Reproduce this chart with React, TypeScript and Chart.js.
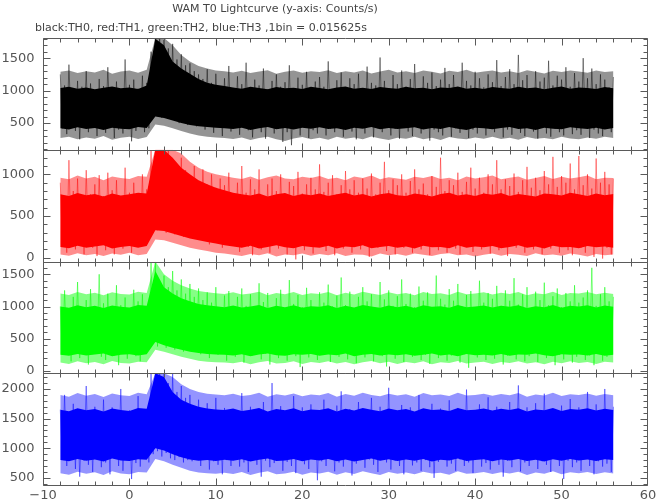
import React, { useEffect, useRef } from "react";
import { Chart, registerables } from "chart.js";

Chart.register(...registerables);

// ---------- text ----------
const TITLE = "WAM T0 Lightcurve (y-axis: Counts/s)";
const SUBTITLE = "black:TH0, red:TH1, green:TH2, blue:TH3 ,1bin = 0.015625s";

// ---------- time grids (seconds) ----------
const T_START = -8;
const SPIKE_STEP = 0.25;
const BAND_STEP = 1;
const X_MIN = -10;
const X_MAX = 60;
const X_TICKS = [-10, 0, 10, 20, 30, 40, 50, 60];

// ---------- counts/s spikes (alternating highs / lows, 0.25 s) ----------
const TH0 = [
  1250, 420, 1080, 330, 1400, 470, 1020, 380, 1150, 250, 1060, 440, 1300, 360, 1110, 460, 990, 300, 1180, 410,
  1070, 350, 1360, 450, 1040, 270, 1140, 400, 1010, 340, 1480, 430, 1090, 220, 1170, 380, 1030, 460, 1230, 360,
  1120, 420, 1600, 600, 1800, 650, 1800, 580, 1780, 620, 1650, 560, 1720, 540, 1480, 500, 1560, 520, 1390, 470,
  1420, 540, 1300, 450, 1250, 560, 1180, 400, 1330, 470, 1120, 350, 1260, 500, 1070, 300, 1190, 430, 1380, 370,
  1040, 450, 1220, 320, 1100, 480, 1430, 390, 1000, 280, 1170, 440, 1080, 360, 1340, 260, 1020, 470, 1150, 340,
  1250, 410, 1060, 210, 1130, 360, 1390, 160, 1030, 420, 1200, 310, 1090, 460, 1290, 270, 1000, 390, 1140, 340,
  1210, 450, 1060, 310, 1450, 410, 1020, 360, 1160, 470, 1280, 290, 1050, 430, 1190, 370, 1100, 250, 1260, 440,
  1010, 340, 1370, 480, 1120, 280, 1080, 420, 1510, 360, 1150, 450, 1040, 310, 1240, 410, 1100, 260, 1310, 460,
  1060, 370, 1180, 300, 1410, 440, 1020, 340, 1220, 470, 1120, 230, 1280, 400, 1070, 360, 1170, 310, 1350, 450,
  1100, 290, 1240, 420, 1030, 350, 1430, 460, 1150, 270, 1080, 400, 1290, 340, 1190, 470, 1050, 310, 1250, 410,
  1130, 360, 1470, 440, 1070, 280, 1210, 400, 1330, 320, 1100, 450, 1550, 350, 1160, 300, 1240, 420, 1040, 370,
  1300, 260, 1140, 440, 1200, 340, 1460, 290, 1080, 410, 1230, 360, 1170, 310, 1360, 460, 1060, 330, 1270, 390,
  1140, 320, 1500, 440, 1190, 270, 1340, 400, 1100, 340, 1250, 300, 1170, 430, 1050, 360, 1210,
];

const TH1 = [
  900, 150, 720, 60, 1170, 230, 800, 100, 950, 180, 700, 40, 1050, 200, 760, 120, 880, 20, 990, 210,
  740, 90, 1020, 160, 810, 40, 930, 220, 690, 110, 1080, 170, 780, 60, 900, 230, 720, 130, 1000, 190,
  820, 260, 1290, 380, 1290, 330, 1290, 400, 1250, 300, 1290, 360, 1180, 280, 1120, 330, 1200, 250, 1050, 300,
  980, 280, 1100, 350, 900, 230, 1060, 310, 880, 160, 1000, 270, 840, 200, 950, 120, 870, 240, 1020, 150,
  760, 180, 900, 70, 1100, 210, 780, 130, 940, 30, 820, 190, 1060, 100, 730, 220, 880, 60, 950, 170,
  800, 110, 1000, 200, 740, 40, 910, 160, 860, -20, 1030, 230, 770, 90, 880, 180, 960, 50, 820, 140,
  1120, 210, 790, 80, 900, 150, 990, 30, 760, 200, 870, 110, 1040, 170, 820, 60, 930, 230, 780, 100,
  950, 140, 830, 10, 1010, 190, 760, 120, 900, 220, 1150, 80, 810, 160, 940, 40, 870, 200, 1000, 120,
  780, 180, 920, 60, 1060, 230, 820, 100, 890, 170, 760, 30, 980, 210, 850, 90, 1200, 150, 800, 60,
  930, 190, 870, 110, 1020, 40, 790, 220, 910, 130, 1080, 70, 830, 180, 960, 100, 780, 200, 1000, 50,
  880, 160, 1170, 90, 820, 210, 940, 20, 860, 170, 1010, 120, 790, 230, 930, 60, 1090, 150, 840, 100,
  960, 200, 810, 40, 1040, 170, 880, 110, 1210, 210, 850, 60, 980, 180, 900, 90, 1130, 30, 820, 190,
  1220, 120, 870, 60, 1000, 200, 830, 10, 1190, 150, 900, -10, 1030, 120, 880, 40, 950,
];

const TH2 = [
  1000, 250, 1250, 380, 920, 150, 1150, 300, 1380, 200, 960, 330, 1100, 100, 1270, 260, 980, 350, 1500, 220,
  1050, 170, 1200, 310, 900, 240, 1330, 90, 1020, 280, 1140, 190, 970, 360, 1260, 230, 1080, 150, 1190, 300,
  940, 330, 1690, 450, 1690, 380, 1400, 420, 1480, 360, 1300, 400, 1550, 330, 1250, 380, 1420, 300, 1200, 350,
  1350, 300, 1150, 420, 1280, 260, 1100, 380, 1220, 200, 1060, 340, 1300, 250, 990, 310, 1170, 160, 1240, 290,
  960, 220, 1150, 350, 1280, 130, 1010, 300, 1190, 240, 920, 360, 1360, 180, 1070, 270, 1210, 100, 980, 320,
  1130, 200, 1260, 330, 950, 160, 1410, 280, 1040, 230, 1180, 60, 990, 340, 1290, 210, 1100, 300, 930, 170,
  1220, 250, 1060, 380, 1340, 140, 1000, 290, 1170, 220, 1450, 330, 1020, 180, 1230, 270, 950, 120, 1150, 310,
  1300, 210, 1080, 350, 1190, 150, 970, 280, 1380, 230, 1110, 70, 1250, 320, 1010, 190, 1160, 260, 1420, 140,
  1040, 300, 1200, 220, 990, 360, 1310, 170, 1090, 250, 1220, 110, 960, 330, 1480, 200, 1120, 280, 1030, 160,
  1270, 240, 1090, 320, 1350, 130, 1000, 260, 1180, 50, 1240, 300, 970, 210, 1400, 350, 1060, 170, 1210, 270,
  1120, 190, 1320, 310, 1010, 100, 1250, 240, 1090, 340, 1440, 180, 1030, 280, 1190, 150, 1300, 230, 980, 300,
  1230, 140, 1100, 260, 1370, 200, 1020, 330, 1160, 90, 1280, 250, 990, 180, 1210, 310, 1080, 130, 1330, 220,
  1060, 280, 1140, 170, 1250, 240, 1600, 90, 1010, 300, 1190, 160, 1300, 220, 1080, 250, 1150,
];

const TH3 = [
  1650, 820, 1900, 700, 1520, 880, 1750, 650, 1600, 520, 1480, 790, 2050, 720, 1560, 600, 1700, 850, 1500, 680,
  1820, 760, 1580, 560, 1690, 830, 1470, 700, 2000, 620, 1550, 800, 1640, 480, 1530, 750, 1880, 690, 1600, 820,
  1570, 760, 2260, 900, 2260, 950, 2260, 860, 2260, 920, 2100, 830, 2260, 800, 1950, 850, 2050, 760, 1850, 800,
  1900, 780, 1700, 860, 1820, 700, 1620, 830, 1760, 640, 1550, 780, 1850, 720, 1600, 560, 1680, 800, 1520, 700,
  1640, 810, 1500, 690, 1930, 760, 1560, 600, 1700, 840, 1480, 720, 1620, 520, 1780, 790, 1540, 680, 2100, 750,
  1590, 830, 1710, 620, 1500, 770, 1650, 700, 1880, 580, 1560, 810, 1690, 730, 1470, 650, 1740, 860, 1600, 460,
  1550, 780, 1820, 700, 1630, 840, 1480, 610, 1720, 760, 1960, 690, 1570, 820, 1660, 540, 1510, 740, 1780, 800,
  1620, 670, 1500, 810, 1850, 720, 1590, 600, 1700, 850, 1540, 760, 2020, 640, 1610, 790, 1480, 700, 1730, 560,
  1580, 830, 1690, 710, 1520, 760, 1900, 620, 1640, 800, 1560, 680, 1750, 500, 1490, 770, 1670, 840, 1600, 690,
  1810, 740, 1530, 620, 1680, 810, 1570, 700, 1990, 760, 1620, 580, 1500, 830, 1740, 690, 1590, 750, 1860, 640,
  1550, 800, 1700, 720, 1610, 520, 1480, 790, 1780, 680, 1640, 840, 2060, 610, 1570, 760, 1690, 700, 1520, 820,
  1760, 650, 1590, 780, 1920, 720, 1540, 600, 1660, 850, 1500, 700, 1720, 480, 1610, 790, 1830, 680, 1570, 760,
  1690, 620, 1520, 820, 1950, 700, 1600, 560, 1740, 780, 1580, 690, 2000, 740, 1620, 600, 1700,
];

// ---------- dense core band (where most bins fall), read per 1 s ----------
const TH0_CORE_HI = [
  1040, 1060, 1030, 1050, 1020, 1045, 1065, 1035, 1050, 1025,
  1080, 1800, 1700, 1450, 1340, 1260, 1180, 1120, 1090, 1070,
  1050, 1030, 1060, 1040, 1020, 1055, 1035, 1045, 1025, 1060,
  1040, 1020, 1050, 1065, 1030, 1045, 1025, 1055, 1040, 1030,
  1060, 1035, 1045, 1020, 1050, 1040, 1065, 1030, 1045, 1025,
  1055, 1040, 1030, 1060, 1035, 1050, 1020, 1045, 1065, 1030,
  1050, 1040, 1025, 1055, 1035,
];
const TH0_CORE_LO = [
  420, 400, 435, 410, 425, 395, 430, 415, 405, 440,
  425, 600, 580, 540, 500, 470, 450, 440, 430, 420,
  410, 430, 395, 420, 440, 405, 425, 400, 430, 415,
  435, 410, 420, 395, 430, 415, 440, 405, 425, 410,
  420, 435, 400, 425, 410, 440, 415, 395, 430, 420,
  405, 425, 440, 410, 420, 395, 430, 415, 405, 435,
  420, 410, 430, 400, 425,
];
const TH1_CORE_HI = [
  760, 740, 775, 750, 765, 735, 770, 745, 760, 780,
  770, 1295, 1295, 1200, 1080, 1000, 930, 880, 840, 810,
  780, 760, 745, 770, 735, 760, 775, 740, 765, 750,
  770, 740, 760, 780, 745, 765, 735, 760, 775, 750,
  740, 770, 755, 735, 765, 780, 745, 760, 740, 770,
  755, 775, 740, 765, 750, 735, 770, 760, 745, 780,
  760, 740, 770, 750, 765,
];
const TH1_CORE_LO = [
  130, 115, 145, 120, 135, 150, 110, 130, 140, 120,
  140, 330, 320, 290, 260, 230, 210, 190, 170, 150,
  135, 120, 145, 110, 130, 150, 125, 115, 140, 130,
  120, 145, 110, 135, 125, 150, 115, 130, 140, 120,
  135, 110, 145, 125, 130, 115, 150, 120, 135, 125,
  140, 115, 130, 150, 120, 135, 110, 145, 125, 130,
  115, 140, 125, 135, 120,
];
const TH2_CORE_HI = [
  1000, 980, 1020, 990, 1010, 975, 1015, 995, 985, 1025,
  1010, 1550, 1300, 1200, 1130, 1080, 1040, 1020, 1005, 990,
  1015, 985, 1000, 1025, 975, 1010, 990, 1020, 980, 1005,
  995, 1020, 975, 1010, 985, 1025, 1000, 980, 1015, 990,
  1010, 975, 1020, 995, 1005, 980, 1025, 990, 1000, 1015,
  985, 1010, 995, 1020, 975, 1005, 990, 1025, 980, 1010,
  1000, 1020, 985, 1015, 995,
];
const TH2_CORE_LO = [
  250, 235, 265, 240, 255, 270, 230, 250, 260, 240,
  260, 450, 400, 360, 330, 300, 280, 265, 255, 250,
  240, 260, 230, 255, 270, 245, 235, 260, 250, 265,
  235, 255, 245, 270, 230, 250, 265, 240, 255, 245,
  260, 235, 250, 270, 240, 255, 230, 265, 245, 250,
  240, 265, 235, 255, 250, 270, 245, 230, 260, 250,
  255, 240, 265, 235, 250,
];
const TH3_CORE_HI = [
  1650, 1625, 1675, 1640, 1660, 1620, 1670, 1645, 1630, 1680,
  1665, 2265, 2200, 1950, 1820, 1750, 1700, 1670, 1655, 1645,
  1670, 1630, 1650, 1680, 1620, 1660, 1640, 1675, 1625, 1655,
  1645, 1675, 1620, 1665, 1635, 1680, 1650, 1625, 1670, 1640,
  1660, 1620, 1675, 1645, 1655, 1630, 1680, 1640, 1650, 1670,
  1635, 1665, 1645, 1675, 1620, 1655, 1640, 1680, 1630, 1660,
  1650, 1675, 1635, 1665, 1645,
];
const TH3_CORE_LO = [
  800, 780, 820, 790, 810, 775, 825, 795, 785, 815,
  805, 1000, 960, 900, 850, 810, 790, 800, 785, 805,
  790, 815, 775, 805, 825, 785, 795, 820, 780, 810,
  795, 820, 780, 810, 775, 800, 825, 790, 815, 785,
  810, 790, 820, 775, 805, 795, 825, 785, 800, 815,
  780, 810, 795, 820, 785, 805, 775, 815, 790, 820,
  795, 810, 785, 815, 800,
];

// ---------- lighter fringe band around the core, read per 1 s ----------
const TH0_FRINGE_HI = [
  1290, 1310, 1270, 1300, 1280, 1320, 1260, 1295, 1310, 1275,
  1320, 1810, 1810, 1700, 1550, 1450, 1380, 1340, 1310, 1300,
  1280, 1305, 1270, 1295, 1315, 1260, 1290, 1310, 1275, 1300,
  1285, 1315, 1270, 1300, 1280, 1310, 1265, 1295, 1320, 1280,
  1300, 1270, 1310, 1290, 1265, 1305, 1285, 1320, 1275, 1295,
  1310, 1280, 1300, 1270, 1315, 1290, 1265, 1305, 1285, 1310,
  1295, 1275, 1310, 1285, 1300,
];
const TH0_FRINGE_LO = [
  270, 290, 250, 280, 260, 300, 245, 275, 290, 255,
  285, 480, 460, 420, 380, 340, 310, 290, 280, 270,
  255, 280, 240, 270, 290, 250, 225, 265, 285, 250,
  275, 245, 290, 260, 280, 250, 295, 265, 240, 275,
  260, 290, 250, 275, 240, 285, 265, 250, 280, 260,
  290, 255, 275, 245, 285, 260, 270, 250, 290, 265,
  250, 280, 260, 290, 270,
];
const TH1_FRINGE_HI = [
  960, 940, 985, 950, 970, 930, 975, 955, 945, 980,
  970, 1295, 1295, 1295, 1250, 1150, 1080, 1030, 1000, 980,
  960, 945, 975, 935, 965, 985, 950, 940, 970, 955,
  980, 945, 960, 930, 975, 955, 985, 940, 965, 950,
  935, 970, 955, 980, 945, 960, 930, 975, 950, 965,
  985, 940, 960, 975, 935, 955, 980, 945, 970, 950,
  965, 985, 940, 960, 955,
];
const TH1_FRINGE_LO = [
  40, 25, 55, 30, 45, 20, 50, 35, 60, 30,
  45, 220, 210, 180, 150, 120, 100, 80, 60, 50,
  35, 20, 45, 30, 55, 15, 40, 30, 50, 25,
  45, 30, 55, 20, 40, 35, 15, 50, 30, 45,
  25, 50, 35, 20, 45, 55, 30, 40, 15, 35,
  50, 25, 45, 35, 20, 55, 30, 40, 25, 50,
  35, 15, 45, 30, 40,
];
const TH2_FRINGE_HI = [
  1200, 1180, 1225, 1190, 1215, 1175, 1220, 1195, 1185, 1230,
  1210, 1698, 1500, 1400, 1330, 1280, 1240, 1220, 1205, 1195,
  1220, 1185, 1200, 1230, 1175, 1210, 1190, 1225, 1180, 1205,
  1195, 1225, 1175, 1215, 1185, 1230, 1200, 1180, 1220, 1190,
  1210, 1175, 1225, 1195, 1205, 1180, 1230, 1190, 1200, 1220,
  1185, 1215, 1195, 1225, 1175, 1205, 1190, 1230, 1180, 1210,
  1200, 1225, 1190, 1215, 1195,
];
const TH2_FRINGE_LO = [
  130, 110, 150, 120, 140, 105, 155, 125, 115, 145,
  135, 330, 300, 260, 220, 190, 160, 145, 135, 130,
  120, 145, 105, 135, 155, 115, 125, 150, 110, 140,
  125, 150, 115, 140, 105, 135, 155, 120, 145, 110,
  140, 120, 150, 105, 135, 125, 155, 115, 130, 145,
  110, 140, 125, 150, 115, 135, 105, 145, 120, 150,
  125, 140, 110, 145, 130,
];
const TH3_FRINGE_HI = [
  1900, 1870, 1930, 1885, 1915, 1865, 1925, 1895, 1880, 1935,
  1910, 2265, 2265, 2200, 2080, 2000, 1950, 1920, 1905, 1895,
  1920, 1880, 1900, 1935, 1870, 1910, 1890, 1925, 1875, 1905,
  1895, 1930, 1870, 1915, 1885, 1935, 1900, 1875, 1920, 1890,
  1910, 1870, 1930, 1895, 1905, 1880, 1935, 1890, 1900, 1920,
  1885, 1915, 1895, 1930, 1870, 1905, 1890, 1935, 1880, 1910,
  1900, 1925, 1885, 1915, 1895,
];
const TH3_FRINGE_LO = [
  580, 555, 605, 570, 595, 550, 610, 575, 560, 600,
  590, 820, 780, 720, 670, 620, 590, 580, 570, 585,
  565, 600, 550, 585, 610, 560, 575, 605, 555, 590,
  575, 605, 555, 595, 565, 610, 580, 550, 600, 570,
  590, 560, 605, 575, 585, 555, 610, 570, 580, 600,
  565, 595, 575, 605, 550, 590, 570, 610, 560, 595,
  580, 600, 565, 595, 575,
];

// ---------- y tick labels ----------
const TH0_TICKS = [500, 1000, 1500];
const TH1_TICKS = [0, 500, 1000];
const TH2_TICKS = [0, 500, 1000, 1500];
const TH3_TICKS = [500, 1000, 1500, 2000];

// ---------- styles ----------
const AXIS_COLOR = "#5a5a5a";
const LABEL_COLOR = "#555555";
const TITLE_COLOR = "#444444";
const FONT = '"DejaVu Sans", sans-serif';

const PANELS = [
  { id: "y0", spikes: TH0, hi: TH0_CORE_HI, lo: TH0_CORE_LO, fhi: TH0_FRINGE_HI, flo: TH0_FRINGE_LO, min: 90, max: 1810, ticks: TH0_TICKS, full: "rgb(0,0,0)", fringe: "rgba(0,0,0,0.42)", light: "rgba(0,0,0,0.45)" },
  { id: "y1", spikes: TH1, hi: TH1_CORE_HI, lo: TH1_CORE_LO, fhi: TH1_FRINGE_HI, flo: TH1_FRINGE_LO, min: -45, max: 1295, ticks: TH1_TICKS, full: "rgb(255,0,0)", fringe: "rgba(255,0,0,0.45)", light: "rgba(255,0,0,0.45)" },
  { id: "y2", spikes: TH2, hi: TH2_CORE_HI, lo: TH2_CORE_LO, fhi: TH2_FRINGE_HI, flo: TH2_FRINGE_LO, min: -35, max: 1698, ticks: TH2_TICKS, full: "rgb(0,255,0)", fringe: "rgba(0,255,0,0.48)", light: "rgba(0,255,0,0.5)" },
  { id: "y3", spikes: TH3, hi: TH3_CORE_HI, lo: TH3_CORE_LO, fhi: TH3_FRINGE_HI, flo: TH3_FRINGE_LO, min: 380, max: 2265, ticks: TH3_TICKS, full: "rgb(0,0,255)", fringe: "rgba(0,0,255,0.42)", light: "rgba(0,0,255,0.45)" },
];

const framePlugin = {
  id: "frame",
  afterDatasetsDraw(chart: any) {
    const { ctx, chartArea } = chart;
    const xs = chart.scales.x;
    const L = Math.round(chartArea.left) + 0.5;
    const R = Math.round(chartArea.right) - 0.5;
    ctx.save();
    ctx.strokeStyle = AXIS_COLOR;
    ctx.lineWidth = 1;
    let lowest = 0;
    PANELS.forEach((p) => {
      const ys = chart.scales[p.id];
      lowest = Math.max(lowest, ys.bottom);
      const T = Math.round(ys.top) + 0.5;
      const B = Math.round(ys.bottom) + 0.5;
      ctx.beginPath();
      ctx.rect(L, T, R - L, B - T);
      for (let v = X_MIN; v <= X_MAX + 1e-9; v += 2) {
        const px = Math.min(R, Math.max(L, Math.round(xs.getPixelForValue(v)) + 0.5));
        const len = v % 10 === 0 ? 7 : 4;
        ctx.moveTo(px, T);
        ctx.lineTo(px, T + len);
        ctx.moveTo(px, B);
        ctx.lineTo(px, B - len);
      }
      for (let v = Math.ceil(ys.min / 100) * 100; v <= ys.max; v += 100) {
        const py = Math.round(ys.getPixelForValue(v)) + 0.5;
        const len = v % 500 === 0 ? 7 : 4;
        ctx.moveTo(L, py);
        ctx.lineTo(L + len, py);
        ctx.moveTo(R, py);
        ctx.lineTo(R - len, py);
      }
      ctx.stroke();
      ctx.fillStyle = LABEL_COLOR;
      ctx.font = `13px ${FONT}`;
      ctx.textAlign = "right";
      ctx.textBaseline = "middle";
      p.ticks.forEach((v: number) => ctx.fillText(String(v), L - 9, ys.getPixelForValue(v)));
    });
    ctx.fillStyle = LABEL_COLOR;
    ctx.font = `13px ${FONT}`;
    ctx.textAlign = "center";
    ctx.textBaseline = "top";
    X_TICKS.forEach((v) =>
      ctx.fillText(v < 0 ? "\u2212" + Math.abs(v) : String(v), xs.getPixelForValue(v), lowest + 4)
    );
    ctx.fillStyle = TITLE_COLOR;
    ctx.font = `11px ${FONT}`;
    ctx.textBaseline = "alphabetic";
    ctx.textAlign = "center";
    ctx.fillText(TITLE, 275, 12);
    ctx.textAlign = "left";
    ctx.fillText(SUBTITLE, 35, 31);
    ctx.restore();
  },
};

function band(p: any, label: string, values: number[], step: number, extra: any) {
  return {
    label: p.id + "-" + label,
    data: values.map((v, i) => ({ x: T_START + i * step, y: v })),
    xAxisID: "x",
    yAxisID: p.id,
    pointRadius: 0,
    tension: 0,
    ...extra,
  };
}

export default function App() {
  const ref = useRef<HTMLCanvasElement>(null);
  useEffect(() => {
    const canvas = ref.current;
    if (!canvas) return;
    const hidden = {
      ticks: { display: false },
      grid: { display: false, drawTicks: false },
      border: { display: false },
    };
    const scales: any = {
      x: { type: "linear", min: X_MIN, max: X_MAX, ...hidden, afterFit: (s: any) => { s.height = 0; } },
    };
    // stacked axes: the last one defined is placed on top, so add bottom panel first
    [...PANELS].reverse().forEach((p) => {
      scales[p.id] = {
        type: "linear",
        position: "left",
        stack: "panels",
        stackWeight: 1,
        min: p.min,
        max: p.max,
        ...hidden,
        afterFit: (s: any) => { s.width = 0; },
      };
    });
    const datasets: any[] = [];
    PANELS.forEach((p) => {
      // earlier datasets are drawn on top
      datasets.push(band(p, "spikes", p.spikes, SPIKE_STEP, { borderColor: p.light, borderWidth: 1, fill: false }));
      datasets.push(band(p, "core-hi", p.hi, BAND_STEP, { borderWidth: 0, borderColor: p.full, backgroundColor: p.full, fill: "+1" }));
      datasets.push(band(p, "core-lo", p.lo, BAND_STEP, { borderWidth: 0, borderColor: p.full, fill: false }));
      datasets.push(band(p, "fringe-hi", p.fhi, BAND_STEP, { borderWidth: 0, borderColor: p.fringe, backgroundColor: p.fringe, fill: "+1" }));
      datasets.push(band(p, "fringe-lo", p.flo, BAND_STEP, { borderWidth: 0, borderColor: p.fringe, fill: false }));
    });
    const chart = new Chart(canvas, {
      type: "line",
      data: { datasets },
      options: {
        responsive: false,
        animation: false,
        events: [],
        parsing: false,
        layout: { padding: { top: 38, left: 43, right: 9, bottom: 19 } },
        plugins: { legend: { display: false }, tooltip: { enabled: false }, title: { display: false } },
        scales,
      } as any,
      plugins: [framePlugin],
    });
    return () => chart.destroy();
  }, []);
  return (
    <div style={{ position: "absolute", left: 0, top: 0, width: 657, height: 504, background: "#fff" }}>
      <canvas ref={ref} width={657} height={504} style={{ display: "block" }} />
    </div>
  );
}
